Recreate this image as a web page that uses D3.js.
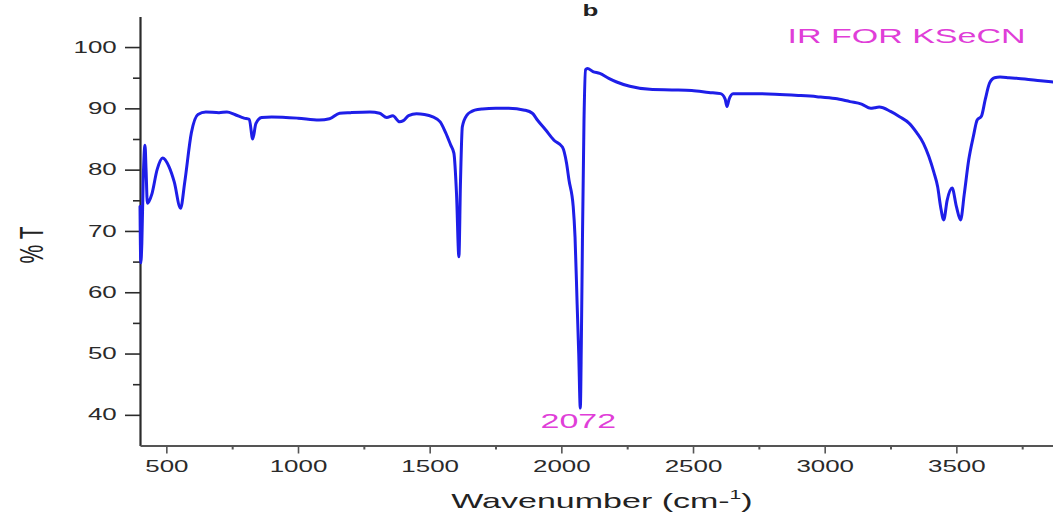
<!DOCTYPE html>
<html><head><meta charset="utf-8">
<script src="https://cdn.jsdelivr.net/npm/d3@7"></script>
<style>html,body{margin:0;padding:0;background:#fff;overflow:hidden}</style>
</head><body><svg id="c" width="1053" height="516"></svg>
<script>
// ---- data ----
const wavenumber = [400,403,407,412,419,423,428,434,445,465,486,510,530,554,570,595,620,650,700,730,760,795,815,828,840,862,900,1000,1080,1120,1158,1200,1273,1310,1337,1360,1386,1400,1420,1450,1480,1512,1540,1561,1580,1592,1602,1611,1617,1624,1640,1671,1700,1751,1800,1861,1890,1909,1940,1972,2004,2020,2029,2045,2052,2060,2066,2072,2076,2080,2086,2092,2099,2120,2146,2180,2210,2260,2336,2420,2495,2560,2605,2622,2629,2637,2652,2720,2811,2900,2970,3040,3096,3140,3175,3190,3207,3250,3286,3320,3350,3375,3396,3415,3429,3440,3452,3465,3484,3500,3516,3530,3547,3565,3579,3595,3610,3626,3645,3666,3700,3760,3820,3867];
const transmittance = [74,64.8,68,78,84,80,74.5,74.8,76,80,81.9,80.5,78,73.7,78,86,89,89.4,89.3,89.4,89,88.4,88.2,85,87.5,88.5,88.6,88.4,88.1,88.3,89.2,89.3,89.4,89.2,88.5,88.8,87.8,88,88.8,89.1,89,88.6,87.8,86,84,82.7,76,65.8,78,87,88.8,89.7,89.9,90,90,89.7,89.2,88.1,86.5,84.8,83.7,81,78.3,74,69,58,50,41.1,52,68,88,96.3,96.5,96,95.7,94.9,94.3,93.6,93.1,93,92.9,92.6,92.4,91.5,90.3,91.5,92.4,92.4,92.3,92.1,91.9,91.6,91.1,90.7,90,90.1,90.2,89.5,88.6,87.6,86,84.3,82.1,79.5,77.2,74,71.8,75,77,74,71.8,76,81.6,85.5,88.1,88.7,91.5,94.1,95,95.1,95,94.8,94.5,94.3];
const xMajorTicks = [500,1000,1500,2000,2500,3000,3500];
const xMinorTicks = [750,1250,1750,2250,2750,3250,3750];
const yMajorTicks = [40,50,60,70,80,90,100];
const yMinorTicks = [45,55,65,75,85,95];
const peakLabels = [{wn:2072, text:"2072"}];
const panelLetter = "b";
const annotation = "IR FOR KSeCN";
const xTitle = "Wavenumber (cm-";
const xTitleSup = "1";
const yTitle = "% T";

// ---- layout ----
const K = 1.62; // horizontal glyph stretch seen in the reference
const svg = d3.select("#c");
const x = d3.scaleLinear().domain([400, 3867]).range([140, 1053]);
const y = d3.scaleLinear().domain([35, 105]).range([445.5, 16.4]);
const FONT = "'Liberation Sans', Arial, sans-serif";
const axisCol = "#2b2b2b";

function stretch(sel) {
  sel.each(function() {
    const t = d3.select(this);
    const ax = +t.attr("x") || 0;
    t.attr("transform", `translate(${ax},0) scale(${K},1) translate(${-ax},0)`);
  });
}

// y axis
const gy = svg.append("g").attr("transform", `translate(${x(400)},0)`);
gy.call(d3.axisLeft(y).tickValues(yMajorTicks).tickSizeInner(15).tickSizeOuter(0).tickFormat(d3.format("d")));
gy.select(".domain").attr("stroke", axisCol).attr("stroke-width", 2.2);
gy.selectAll(".tick line").attr("stroke", axisCol).attr("stroke-width", 1.6);
gy.selectAll(".tick text").attr("x", -23.3).attr("font-family", FONT).attr("font-size", 16).attr("fill", "#2a2a2a").call(stretch);
const gym = svg.append("g").attr("transform", `translate(${x(400)},0)`);
gym.call(d3.axisLeft(y).tickValues(yMinorTicks).tickSizeInner(7).tickSizeOuter(0).tickFormat(""));
gym.select(".domain").remove();
gym.selectAll(".tick line").attr("stroke", axisCol).attr("stroke-width", 1.6);

// x axis
const gx = svg.append("g").attr("transform", `translate(0,${y(35)})`);
gx.call(d3.axisBottom(x).tickValues(xMajorTicks).tickSizeInner(8).tickSizeOuter(0).tickFormat(d3.format("d")));
gx.select(".domain").attr("stroke", "#555").attr("stroke-width", 2);
gx.selectAll(".tick line").attr("stroke", "#555").attr("stroke-width", 1.6);
gx.selectAll(".tick text").attr("y", 15).attr("font-family", FONT).attr("font-size", 16).attr("fill", "#2a2a2a").call(stretch);
const gxm = svg.append("g").attr("transform", `translate(0,${y(35)})`);
gxm.call(d3.axisBottom(x).tickValues(xMinorTicks).tickSizeInner(4).tickSizeOuter(0).tickFormat(""));
gxm.select(".domain").remove();
gxm.selectAll(".tick line").attr("stroke", "#555").attr("stroke-width", 2);

// spectrum
const pts = wavenumber.map((w, i) => [w, transmittance[i]]);
const line = d3.line().x(d => x(d[0])).y(d => y(d[1])).curve(d3.curveMonotoneX);
svg.append("path").datum(pts).attr("d", line)
  .attr("fill", "none").attr("stroke", "#1e1ee8").attr("stroke-width", 3)
  .attr("stroke-linejoin", "round").attr("stroke-linecap", "round");

// peak labels
svg.selectAll("text.peak").data(peakLabels).join("text").attr("class", "peak")
  .attr("x", d => x(d.wn) - 2).attr("y", 428).attr("text-anchor", "middle")
  .attr("font-family", FONT).attr("font-size", 21).attr("fill", "#e03ed8")
  .text(d => d.text).call(stretch);

// annotation
svg.append("text").attr("x", 787.5).attr("y", 43).attr("font-family", FONT).attr("font-size", 21)
  .attr("fill", "#e03ed8").text(annotation).call(stretch);

// panel letter
svg.append("text").attr("x", 590.5).attr("y", 16).attr("text-anchor", "middle").attr("font-family", FONT)
  .attr("font-size", 16).attr("font-weight", "bold").attr("fill", "#222").text(panelLetter).call(stretch);

// x title
const xt = svg.append("text").attr("x", 602).attr("y", 508).attr("text-anchor", "middle")
  .attr("font-family", FONT).attr("font-size", 21).attr("fill", "#222");
xt.append("tspan").text(xTitle);
xt.append("tspan").attr("font-size", 13).attr("dy", -9).text(xTitleSup);
xt.append("tspan").attr("dy", 9).text(")");
stretch(xt);

// y title
svg.append("text").attr("transform", `translate(43,245) scale(${K},1) rotate(-90)`)
  .attr("text-anchor", "middle").attr("font-family", FONT).attr("font-size", 21).attr("fill", "#222")
  .text(yTitle);
</script></body></html>
